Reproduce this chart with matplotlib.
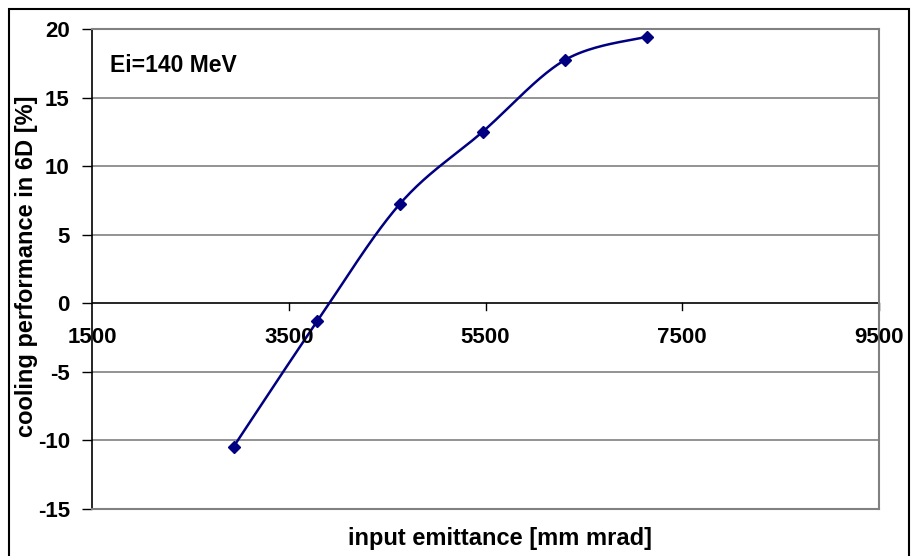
import numpy as np
import matplotlib
matplotlib.use('Agg')
import matplotlib.pyplot as plt
from matplotlib.patches import Rectangle

# values
emittance = [2940, 3790, 4630, 5470, 6310, 7145]
cooling = [-10.45, -1.3, 7.25, 12.5, 17.75, 19.45]
x_ticks = [1500, 3500, 5500, 7500, 9500]
y_ticks = [-15, -10, -5, 0, 5, 10, 15, 20]

LINE_COLOR = '#000080'
GRID_COLOR = '#808080'


def smooth_curve(x, y, n=40):
    """Excel-style smoothed line (Catmull-Rom as cubic Bezier segments)"""
    pts = np.column_stack([x, y]).astype(float)
    # scale so the tangents behave like in screen space
    sx = 1.0 / (x_ticks[-1] - x_ticks[0])
    sy = 1.0 / (y_ticks[-1] - y_ticks[0])
    p = pts * [sx, sy]
    out = []
    t = np.linspace(0, 1, n)[:, None]
    for i in range(len(p) - 1):
        p0 = p[i - 1] if i > 0 else p[i]
        p1, p2 = p[i], p[i + 1]
        p3 = p[i + 2] if i + 2 < len(p) else p[i + 1]
        c1 = p1 + (p2 - p0) / 6
        c2 = p2 - (p3 - p1) / 6
        seg = ((1 - t) ** 3) * p1 + 3 * ((1 - t) ** 2) * t * c1 \
            + 3 * (1 - t) * t ** 2 * c2 + t ** 3 * p2
        out.append(seg)
    curve = np.vstack(out) / [sx, sy]
    return curve[:, 0], curve[:, 1]


plt.rcParams['font.family'] = ['Liberation Sans', 'DejaVu Sans']
plt.rcParams['font.weight'] = 'bold'

fig = plt.figure(figsize=(9.11, 5.56), dpi=100)
ax = fig.add_axes([92 / 911, (556 - 509) / 556, (879 - 92) / 911, (509 - 29) / 556])

ax.set_xlim(x_ticks[0], x_ticks[-1])
ax.set_ylim(y_ticks[0], y_ticks[-1])

# horizontal gridlines
for yv in y_ticks:
    if yv != 0:
        ax.axhline(yv, color=GRID_COLOR, lw=1.2, zorder=1)

# zero axis with downward tick marks
ax.axhline(0, color='black', lw=1.2, zorder=2)
for xv in x_ticks[1:]:
    ax.plot([xv, xv], [0, -0.5], color='black', lw=1.0, zorder=2, clip_on=False)

sx, sy = smooth_curve(emittance, cooling)
ax.plot(sx, sy, color=LINE_COLOR, lw=1.8, zorder=3)
ax.plot(emittance, cooling, ls='none', marker='D', ms=6.5, color=LINE_COLOR, zorder=4)

for side in ['top', 'right', 'bottom']:
    ax.spines[side].set_color(GRID_COLOR)
    ax.spines[side].set_linewidth(1.5)
ax.spines['left'].set_color('black')
ax.spines['left'].set_linewidth(1.2)

ax.set_yticks(y_ticks)
ax.set_yticklabels([str(v) for v in y_ticks])
ax.tick_params(axis='y', direction='out', length=7, width=1.0, pad=9, labelsize=16)
ax.set_xticks([])

# x tick labels sit under the zero axis
for xv in x_ticks:
    ax.text(xv, -1.75, str(xv), ha='center', va='top', fontsize=16, fontweight='bold')

ax.text(0.023, 0.925, 'Ei=140 MeV', transform=ax.transAxes, fontsize=16.5,
        fontweight='bold', va='center', ha='left')

fig.text(500 / 911, 1 - 538 / 556, 'input emittance [mm mrad]', ha='center', va='center',
         fontsize=17, fontweight='bold')
fig.text(27 / 911, 1 - 266 / 556, 'cooling performance in 6D [%]', ha='center', va='center',
         rotation=90, fontsize=17, fontweight='bold')

# chart outer border
fig.patches.append(Rectangle((9 / 911, -0.01), (909 - 9) / 911, 1 - 9 / 556 + 0.01,
                             transform=fig.transFigure, fill=False, ec='black', lw=1.5))

fig.savefig('out.png', dpi=100)
